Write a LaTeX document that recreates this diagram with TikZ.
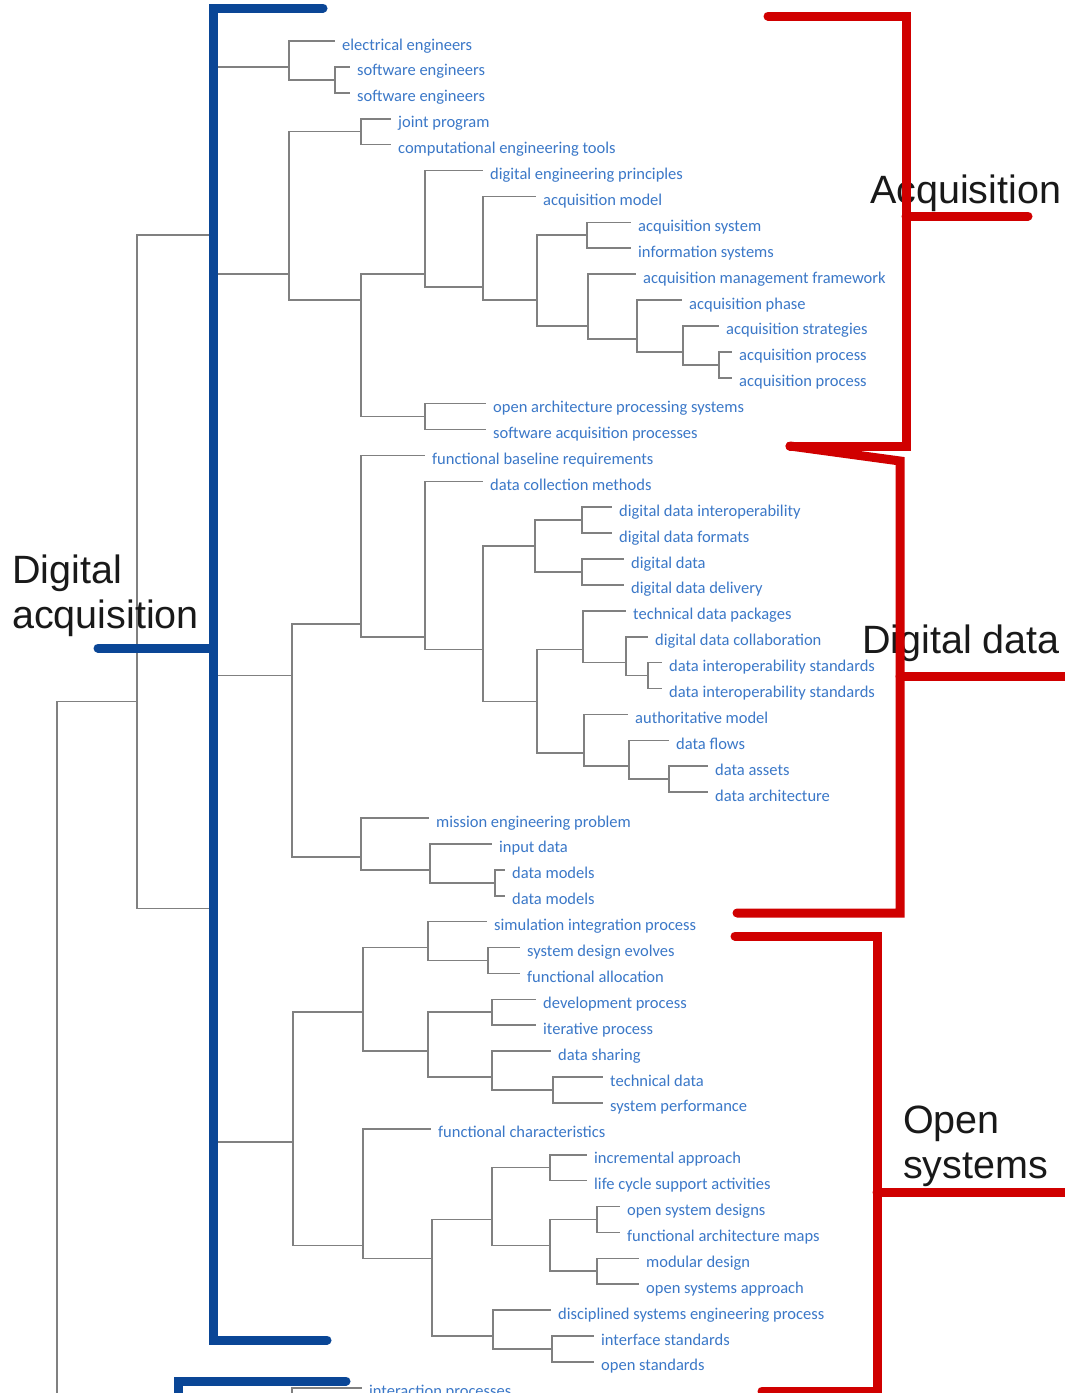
\documentclass[tikz,border=0pt]{standalone}
\usepackage{fontspec}
\setmainfont{Carlito}
\newfontfamily\bigfont{Liberation Sans}
\definecolor{treegray}{RGB}{128,128,128}
\definecolor{leafblue}{RGB}{59,120,200}
\definecolor{bracketred}{RGB}{208,0,0}
\definecolor{bracketblue}{RGB}{10,70,150}
\definecolor{labelblack}{RGB}{25,25,25}
% vertical position of the n-th leaf row (pixels from the top)
\newcommand{\leafrow}[1]{41+25.9*(#1-1)}
\begin{document}
\begin{tikzpicture}[x=1pt,y=-1pt,
  branch/.style={draw=treegray, line width=1.6pt},
  leaf/.style={anchor=west, inner xsep=7pt, inner ysep=0pt, text height=18pt,
    text depth=0pt, text=leafblue, font=\fontsize{16.5}{18}\selectfont},
  biglabel/.style={anchor=base west, inner sep=0pt, text=labelblack,
    font=\bigfont\fontsize{39.5}{46}\selectfont},
  redbar/.style={draw=bracketred, line width=9pt, line cap=round, line join=miter},
  bluebar/.style={draw=bracketblue, line width=9pt, line cap=round, line join=miter}]
\fill[white] (0,0) rectangle (1065,1393);
\useasboundingbox (0,0) rectangle (1065,1393);

% ---------- leaves ----------
\node[leaf] (l1) at (335,{\leafrow{1}}) {electrical engineers};
\node[leaf] (l2) at (350,{\leafrow{2}}) {software engineers};
\node[leaf] (l3) at (350,{\leafrow{3}}) {software engineers};
\node[leaf] (l4) at (391,{\leafrow{4}}) {joint program};
\node[leaf] (l5) at (391,{\leafrow{5}}) {computational engineering tools};
\node[leaf] (l6) at (483,{\leafrow{6}}) {digital engineering principles};
\node[leaf] (l7) at (536,{\leafrow{7}}) {acquisition model};
\node[leaf] (l8) at (631,{\leafrow{8}}) {acquisition system};
\node[leaf] (l9) at (631,{\leafrow{9}}) {information systems};
\node[leaf] (l10) at (636,{\leafrow{10}}) {acquisition management framework};
\node[leaf] (l11) at (682,{\leafrow{11}}) {acquisition phase};
\node[leaf] (l12) at (719,{\leafrow{12}}) {acquisition strategies};
\node[leaf] (l13) at (732,{\leafrow{13}}) {acquisition process};
\node[leaf] (l14) at (732,{\leafrow{14}}) {acquisition process};
\node[leaf] (l15) at (486,{\leafrow{15}}) {open architecture processing systems};
\node[leaf] (l16) at (486,{\leafrow{16}}) {software acquisition processes};
\node[leaf] (l17) at (425,{\leafrow{17}}) {functional baseline requirements};
\node[leaf] (l18) at (483,{\leafrow{18}}) {data collection methods};
\node[leaf] (l19) at (612,{\leafrow{19}}) {digital data interoperability};
\node[leaf] (l20) at (612,{\leafrow{20}}) {digital data formats};
\node[leaf] (l21) at (624,{\leafrow{21}}) {digital data};
\node[leaf] (l22) at (624,{\leafrow{22}}) {digital data delivery};
\node[leaf] (l23) at (626,{\leafrow{23}}) {technical data packages};
\node[leaf] (l24) at (648,{\leafrow{24}}) {digital data collaboration};
\node[leaf] (l25) at (662,{\leafrow{25}}) {data interoperability standards};
\node[leaf] (l26) at (662,{\leafrow{26}}) {data interoperability standards};
\node[leaf] (l27) at (628,{\leafrow{27}}) {authoritative model};
\node[leaf] (l28) at (669,{\leafrow{28}}) {data flows};
\node[leaf] (l29) at (708,{\leafrow{29}}) {data assets};
\node[leaf] (l30) at (708,{\leafrow{30}}) {data architecture};
\node[leaf] (l31) at (429,{\leafrow{31}}) {mission engineering problem};
\node[leaf] (l32) at (492,{\leafrow{32}}) {input data};
\node[leaf] (l33) at (505,{\leafrow{33}}) {data models};
\node[leaf] (l34) at (505,{\leafrow{34}}) {data models};
\node[leaf] (l35) at (487,{\leafrow{35}}) {simulation integration process};
\node[leaf] (l36) at (520,{\leafrow{36}}) {system design evolves};
\node[leaf] (l37) at (520,{\leafrow{37}}) {functional allocation};
\node[leaf] (l38) at (536,{\leafrow{38}}) {development process};
\node[leaf] (l39) at (536,{\leafrow{39}}) {iterative process};
\node[leaf] (l40) at (551,{\leafrow{40}}) {data sharing};
\node[leaf] (l41) at (603,{\leafrow{41}}) {technical data};
\node[leaf] (l42) at (603,{\leafrow{42}}) {system performance};
\node[leaf] (l43) at (431,{\leafrow{43}}) {functional characteristics};
\node[leaf] (l44) at (587,{\leafrow{44}}) {incremental approach};
\node[leaf] (l45) at (587,{\leafrow{45}}) {life cycle support activities};
\node[leaf] (l46) at (620,{\leafrow{46}}) {open system designs};
\node[leaf] (l47) at (620,{\leafrow{47}}) {functional architecture maps};
\node[leaf] (l48) at (639,{\leafrow{48}}) {modular design};
\node[leaf] (l49) at (639,{\leafrow{49}}) {open systems approach};
\node[leaf] (l50) at (551,{\leafrow{50}}) {disciplined systems engineering process};
\node[leaf] (l51) at (594,{\leafrow{51}}) {interface standards};
\node[leaf] (l52) at (594,{\leafrow{52}}) {open standards};
\node[leaf] (l53) at (362,{\leafrow{53}}) {interaction processes};

% ---------- merge points (x = merge height, y = mean of its leaf rows) ----------
\coordinate (r0) at (57,1393);
\coordinate (bot) at (292,1393);
\coordinate (n137) at (137,{\leafrow{26.5}});
% acquisition branch
\coordinate (nAcq) at (213,{\leafrow{8.5}});
\coordinate (N1) at (289,{\leafrow{2}});
\coordinate (N2) at (335,{\leafrow{2.5}});
\coordinate (N3) at (289,{\leafrow{10}});
\coordinate (Nj) at (361,{\leafrow{4.5}});
\coordinate (N4) at (361,{\leafrow{11}});
\coordinate (N5) at (425,{\leafrow{10}});
\coordinate (N6) at (483,{\leafrow{10.5}});
\coordinate (N7) at (537,{\leafrow{11}});
\coordinate (N8) at (587,{\leafrow{8.5}});
\coordinate (N9) at (588,{\leafrow{12}});
\coordinate (N10) at (637,{\leafrow{12.5}});
\coordinate (N11) at (683,{\leafrow{13}});
\coordinate (N12) at (719,{\leafrow{13.5}});
\coordinate (Noa) at (425,{\leafrow{15.5}});
% digital data branch
\coordinate (nDO) at (213,{\leafrow{34.5}});
\coordinate (Rdd) at (292,{\leafrow{25.5}});
\coordinate (Nd1) at (361,{\leafrow{23.5}});
\coordinate (Nd2) at (425,{\leafrow{24}});
\coordinate (Nd3) at (483,{\leafrow{24.5}});
\coordinate (Nd4) at (535,{\leafrow{20.5}});
\coordinate (Nd5) at (582,{\leafrow{19.5}});
\coordinate (Nd6) at (582,{\leafrow{21.5}});
\coordinate (Nd7) at (537,{\leafrow{26.5}});
\coordinate (Nd8) at (583,{\leafrow{24.5}});
\coordinate (Nd9) at (626,{\leafrow{25}});
\coordinate (Nd10) at (648,{\leafrow{25.5}});
\coordinate (Nd11) at (584,{\leafrow{28.5}});
\coordinate (Nd12) at (629,{\leafrow{29}});
\coordinate (Nd13) at (669,{\leafrow{29.5}});
\coordinate (Nme) at (361,{\leafrow{32.5}});
\coordinate (Nd14) at (430,{\leafrow{33}});
\coordinate (Nd15) at (495,{\leafrow{33.5}});
% open systems branch
\coordinate (Ros) at (293,{\leafrow{43.5}});
\coordinate (Os1) at (363,{\leafrow{38.5}});
\coordinate (Os2) at (428,{\leafrow{36}});
\coordinate (Os4) at (488,{\leafrow{36.5}});
\coordinate (Os3) at (428,{\leafrow{40}});
\coordinate (Os5) at (492,{\leafrow{38.5}});
\coordinate (Os6) at (492,{\leafrow{41}});
\coordinate (Os7) at (553,{\leafrow{41.5}});
\coordinate (Osfc) at (363,{\leafrow{47.5}});
\coordinate (Os8) at (432,{\leafrow{48}});
\coordinate (Os9) at (492,{\leafrow{46.5}});
\coordinate (Os10) at (550,{\leafrow{44.5}});
\coordinate (Os11) at (550,{\leafrow{47.5}});
\coordinate (Os13) at (597,{\leafrow{46.5}});
\coordinate (Os14) at (597,{\leafrow{48.5}});
\coordinate (Os12) at (493,{\leafrow{51}});
\coordinate (Os15) at (552,{\leafrow{51.5}});

% ---------- dendrogram branches ----------
\foreach \p/\c in {r0/n137, bot/l53.west, n137/nAcq, n137/nDO,
  nAcq/N1, nAcq/N3, N1/l1.west, N1/N2, N2/l2.west, N2/l3.west,
  N3/Nj, N3/N4, Nj/l4.west, Nj/l5.west, N4/N5, N4/Noa,
  N5/l6.west, N5/N6, N6/l7.west, N6/N7, N7/N8, N7/N9,
  N8/l8.west, N8/l9.west, N9/l10.west, N9/N10, N10/l11.west, N10/N11,
  N11/l12.west, N11/N12, N12/l13.west, N12/l14.west, Noa/l15.west, Noa/l16.west,
  nDO/Rdd, nDO/Ros, Rdd/Nd1, Rdd/Nme, Nd1/l17.west, Nd1/Nd2,
  Nd2/l18.west, Nd2/Nd3, Nd3/Nd4, Nd3/Nd7, Nd4/Nd5, Nd4/Nd6,
  Nd5/l19.west, Nd5/l20.west, Nd6/l21.west, Nd6/l22.west,
  Nd7/Nd8, Nd7/Nd11, Nd8/l23.west, Nd8/Nd9, Nd9/l24.west, Nd9/Nd10,
  Nd10/l25.west, Nd10/l26.west, Nd11/l27.west, Nd11/Nd12,
  Nd12/l28.west, Nd12/Nd13, Nd13/l29.west, Nd13/l30.west,
  Nme/l31.west, Nme/Nd14, Nd14/l32.west, Nd14/Nd15, Nd15/l33.west, Nd15/l34.west,
  Ros/Os1, Ros/Osfc, Os1/Os2, Os1/Os3, Os2/l35.west, Os2/Os4,
  Os4/l36.west, Os4/l37.west, Os3/Os5, Os3/Os6, Os5/l38.west, Os5/l39.west,
  Os6/l40.west, Os6/Os7, Os7/l41.west, Os7/l42.west,
  Osfc/l43.west, Osfc/Os8, Os8/Os9, Os8/Os12, Os9/Os10, Os9/Os11,
  Os10/l44.west, Os10/l45.west, Os11/Os13, Os11/Os14,
  Os13/l46.west, Os13/l47.west, Os14/l48.west, Os14/l49.west,
  Os12/l50.west, Os12/Os15, Os15/l51.west, Os15/l52.west}
  \draw[branch] (\p) |- (\c);

% ---------- cluster labels ----------
\node[biglabel] (tDig) at (12,583) {Digital};
\node[biglabel] (tAcqn) at (12,628) {acquisition};
\node[biglabel] (tAcq) at (870,203) {Acquisition};
\node[biglabel] (tData) at (862,653) {Digital data};
\node[biglabel] (tOpen) at (903,1133) {Open};
\node[biglabel] (tSys) at (903,1178) {systems};

% ---------- hand-drawn brackets ----------
\draw[bluebar] (323,8) -- (213,8) -- (213,1340) -- (327,1340);
\draw[bluebar] (98,648) -- (213,648);
\draw[bluebar] (346,1381) -- (178,1381) -- (178,1405);

\draw[redbar] (768,16) -- (906,16) -- (906,446) -- (790,446);
\draw[redbar] (906,216) -- (1028,216);
\draw[redbar] (790,446) -- (900,461) -- (900,913) -- (737,913);
\draw[redbar] (900,676) -- (1075,676);
\draw[redbar] (735,936) -- (877,936) -- (877,1391) -- (762,1391);
\draw[redbar] (877,1192) -- (1075,1192);
\end{tikzpicture}
\end{document}
